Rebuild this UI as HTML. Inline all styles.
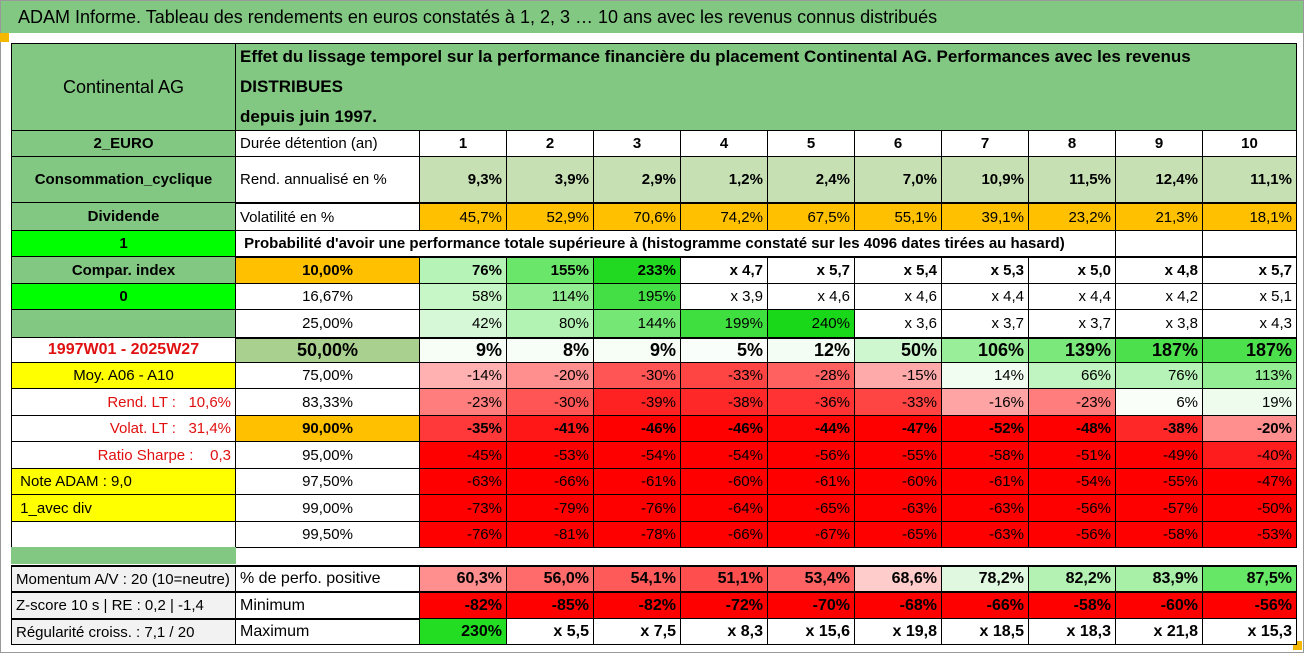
<!DOCTYPE html>
<html><head><meta charset="utf-8"><style>
body{margin:0;width:1304px;height:653px;overflow:hidden;background:#fff;font-family:"Liberation Sans Narrow","Liberation Sans",sans-serif;}
#frame{position:absolute;left:0;top:0;width:1302px;height:651px;border:1px solid #999;}
#title{position:absolute;left:1px;top:1px;width:1302px;height:32px;background:#82c882;font-size:18px;line-height:32px;padding-left:17px;box-sizing:border-box;color:#000;}
.c{position:absolute;box-sizing:border-box;border:1px solid #000;font-size:15px;white-space:nowrap;overflow:hidden;display:flex;align-items:center;padding:0 4px;color:#000;}
.b{font-weight:bold}
.sq{position:absolute;width:9px;height:9px;background:#f5b800}
</style></head><body>
<div id="frame"></div>
<div id="title">ADAM Informe. Tableau des rendements en euros constatés à 1, 2, 3 … 10 ans avec les revenus connus distribués</div>
<div class="sq" style="left:0;top:33px"></div>
<div class="sq" style="left:1293px;top:641px"></div>
<div id="tbl"></div>
<script>
const years=["1","2","3","4","5","6","7","8","9","10"];
const rendAnn=["9,3%","3,9%","2,9%","1,2%","2,4%","7,0%","10,9%","11,5%","12,4%","11,1%"];
const volat=["45,7%","52,9%","70,6%","74,2%","67,5%","55,1%","39,1%","23,2%","21,3%","18,1%"];
const quantiles=["10,00%","16,67%","25,00%","50,00%","75,00%","83,33%","90,00%","95,00%","97,50%","99,00%","99,50%"];
const qRows=[
["76%","155%","233%","x 4,7","x 5,7","x 5,4","x 5,3","x 5,0","x 4,8","x 5,7"],
["58%","114%","195%","x 3,9","x 4,6","x 4,6","x 4,4","x 4,4","x 4,2","x 5,1"],
["42%","80%","144%","199%","240%","x 3,6","x 3,7","x 3,7","x 3,8","x 4,3"],
["9%","8%","9%","5%","12%","50%","106%","139%","187%","187%"],
["-14%","-20%","-30%","-33%","-28%","-15%","14%","66%","76%","113%"],
["-23%","-30%","-39%","-38%","-36%","-33%","-16%","-23%","6%","19%"],
["-35%","-41%","-46%","-46%","-44%","-47%","-52%","-48%","-38%","-20%"],
["-45%","-53%","-54%","-54%","-56%","-55%","-58%","-51%","-49%","-40%"],
["-63%","-66%","-61%","-60%","-61%","-60%","-61%","-54%","-55%","-47%"],
["-73%","-79%","-76%","-64%","-65%","-63%","-63%","-56%","-57%","-50%"],
["-76%","-81%","-78%","-66%","-67%","-65%","-63%","-56%","-58%","-53%"]];
const posPct=["60,3%","56,0%","54,1%","51,1%","53,4%","68,6%","78,2%","82,2%","83,9%","87,5%"];
const minimum=["-82%","-85%","-82%","-72%","-70%","-68%","-66%","-58%","-60%","-56%"];
const maximum=["230%","x 5,5","x 7,5","x 8,3","x 15,6","x 19,8","x 18,5","x 18,3","x 21,8","x 15,3"];

const X=[11,235,419,506,593,680,767,854,941,1028,1115,1202,1296];
const T=document.getElementById('tbl');
function cell(x0,x1,y0,y1,txt,o){o=o||{};const d=document.createElement('div');d.className='c'+(o.b?' b':'');


d.style.left=x0+'px';d.style.top=y0+'px';d.style.width=(x1-x0+1)+'px';d.style.height=(y1-y0+1)+'px';
d.style.background=o.bg||'#fff';d.style.justifyContent=o.al||'flex-end';if(o.col)d.style.color=o.col;if(o.fs)d.style.fontSize=o.fs+'px';
if(o.bt)d.style.borderTopWidth=o.bt+'px';
d.innerHTML=txt;T.appendChild(d);return d;}
function num(s){if(s.startsWith('x'))return null;return parseFloat(s.replace(',','.'));}
function mix(c,t){return 'rgb('+c.map(v=>Math.round(255+(v-255)*t)).join(',')+')';}
function colorFor(s){const v=num(s);if(v===null)return '#fff';
 if(v<0)return mix([255,0,0],Math.min(1,-v/45));
 return mix([20,215,20],Math.min(1,v/245));}
const G='#82c882',LG='#00ff00',OR='#ffc000';
// header
cell(X[0],X[1],43,130,'Continental AG',{bg:G,al:'center',fs:18,name:'stock-name'});
const h=cell(X[1],X[12],43,130,'Effet du lissage temporel sur la performance financière du placement Continental AG. Performances avec les revenus DISTRIBUES<br>depuis juin 1997.',{bg:G,al:'flex-start',fs:17,name:'header-description'});
h.style.whiteSpace='normal';h.style.lineHeight='30px';h.style.fontWeight='bold';
// row defs
const rows=[[130,156],[156,202],[202,230],[230,256],[256,283],[283,309],[309,337],[337,362],[362,388],[388,415],[415,441],[441,468],[468,494],[494,521],[521,547]];
const colA=[["2_EURO",G,'center'],["Consommation_cyclique",G,'center'],["Dividende",G,'center'],["1",LG,'center'],["Compar. index",G,'center'],["0",LG,'center'],["",G,'center'],
["1997W01 - 2025W27",'#fff','center','#e01010'],["Moy. A06 - A10",'#ffff00','center'],["Rend. LT :&nbsp;&nbsp;&nbsp;10,6%",'#fff','flex-end','#e01010'],["Volat. LT :&nbsp;&nbsp;&nbsp;31,4%",'#fff','flex-end','#e01010'],["Ratio Sharpe :&nbsp;&nbsp;&nbsp;&nbsp;0,3",'#fff','flex-end','#e01010'],["&nbsp;Note ADAM : 9,0",'#ffff00','flex-start'],["&nbsp;1_avec div",'#ffff00','flex-start'],["",'#fff','center']];
colA.forEach((a,i)=>cell(X[0],X[1],rows[i][0],rows[i][1],a[0],{bg:a[1],al:a[2],col:a[3],b:i<8,fs:i==7?16:15,name:'side-info-'+i}));
// duration row
cell(X[1],X[2],130,156,'Durée détention (an)',{al:'flex-start',name:'duration-label'});
years.forEach((y,i)=>cell(X[i+2],X[i+3],130,156,y,{al:'center',b:1,name:'year-'+y}));
cell(X[1],X[2],156,202,'Rend. annualisé en %',{al:'flex-start',name:'return-label'});
rendAnn.forEach((v,i)=>cell(X[i+2],X[i+3],156,202,v,{bg:'#c6e0b4',b:1,name:'annual-return-'+years[i]}));
cell(X[1],X[2],202,230,'Volatilité en %',{al:'flex-start',name:'volatility-label',bt:2});
volat.forEach((v,i)=>cell(X[i+2],X[i+3],202,230,v,{bg:OR,name:'volatility-'+years[i],bt:2}));
cell(X[1],X[10],230,256,"&nbsp;Probabilité d'avoir une performance totale supérieure à (histogramme constaté sur les 4096 dates tirées au hasard)",{al:'flex-start',b:1,name:'probability-caption'});
cell(X[10],X[11],230,256,'',{});cell(X[11],X[12],230,256,'',{});
quantiles.forEach((q,r)=>{const y0=rows[r+4][0],y1=rows[r+4][1];const bold=(r==0||r==3||r==6);
 const qb=(r==0||r==6)?OR:(r==3?'#a9d08e':'#fff');
 cell(X[1],X[2],y0,y1,q,{bg:qb,al:'center',b:bold,fs:r==3?18:15,name:'quantile-'+r,bt:(r==0||r==3)?2:1});
 qRows[r].forEach((v,i)=>cell(X[i+2],X[i+3],y0,y1,v,{bg:colorFor(v),b:bold,fs:r==3?18:15,name:'perf-q'+r+'-y'+years[i],bt:(r==0||r==3)?2:1}));
});
// green strip
cell(X[0],X[1],547,563,'',{bg:G,name:'separator'}).style.border='none';
const bl=[["Momentum A/V : 20 (10=neutre)","% de perfo. positive"],["Z-score 10 s | RE : 0,2 | -1,4","Minimum"],["Régularité croiss. : 7,1 / 20","Maximum"]];
const by=[[565,591],[591,618],[618,644]];
bl.forEach((r,i)=>{cell(X[0],X[1],by[i][0],by[i][1],r[0],{bg:'#f2f2f2',al:'flex-start',name:'stat-'+i,bt:2});
 cell(X[1],X[2],by[i][0],by[i][1],r[1],{al:'flex-start',fs:16,name:'stat-label-'+i,bt:2});});
const posCols=['#ff8f8f','#ff6a6a','#ff5a5a','#ff4e4e','#ff6262','#ffcccc','#dff8df','#b4f2b4','#a8efa8','#66e866'];
posPct.forEach((v,i)=>cell(X[i+2],X[i+3],565,591,v,{bg:posCols[i],b:1,fs:16,name:'positive-pct-'+years[i],bt:2}));
minimum.forEach((v,i)=>cell(X[i+2],X[i+3],591,618,v,{bg:'#ff0000',b:1,fs:16,name:'minimum-'+years[i],bt:2}));
maximum.forEach((v,i)=>cell(X[i+2],X[i+3],618,644,v,{bg:num(v)!==null?'#22dd22':'#fff',b:1,fs:16,name:'maximum-'+years[i]}));
</script>
</body></html>
